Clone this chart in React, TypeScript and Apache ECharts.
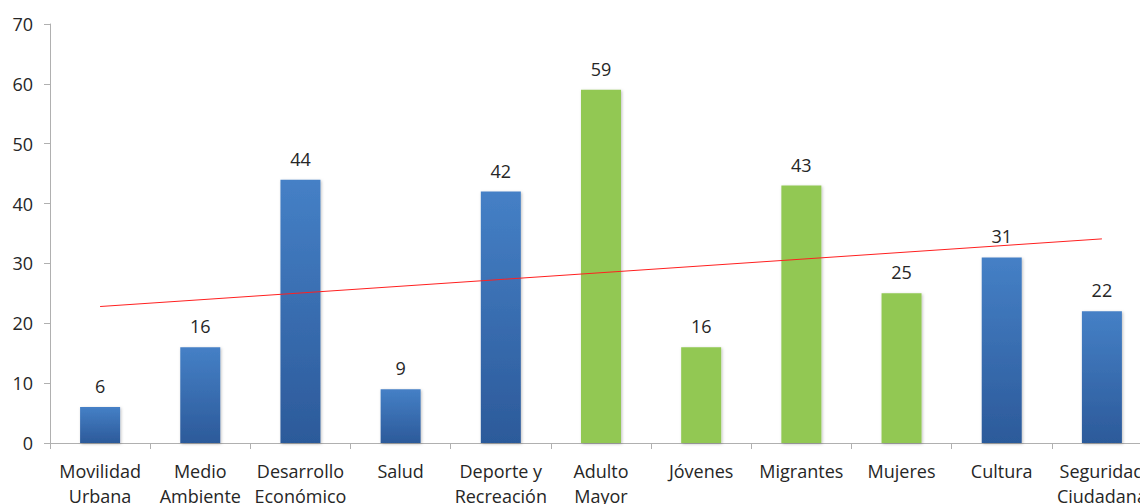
import React, { useEffect, useRef } from "react";
import * as echarts from "echarts";

const categories = [
  "Movilidad\nUrbana",
  "Medio\nAmbiente",
  "Desarrollo\nEconómico",
  "Salud",
  "Deporte y\nRecreación",
  "Adulto\nMayor",
  "Jóvenes",
  "Migrantes",
  "Mujeres",
  "Cultura",
  "Seguridad\nCiudadana",
];
const values = [6, 16, 44, 9, 42, 59, 16, 43, 25, 31, 22];
const groups = ["b", "b", "b", "b", "b", "g", "g", "g", "g", "b", "b"];
const trendStart = 22.8;
const trendEnd = 34.1;

const FONT = "'Open Sans', sans-serif";

export default function App() {
  const ref = useRef<HTMLDivElement>(null);
  useEffect(() => {
    document.body.style.margin = "0";
    if (!ref.current) return;
    const chart = echarts.init(ref.current, undefined, { renderer: "svg" });
    const blue = new echarts.graphic.LinearGradient(0, 0, 0, 1, [
      { offset: 0, color: "#4580c6" },
      { offset: 1, color: "#2c5a9a" },
    ]);
    const green = "#92c853";
    const trend = values.map((_, i) =>
      i === 0 ? trendStart : i === values.length - 1 ? trendEnd : null
    );
    chart.setOption({
      animation: false,
      textStyle: { fontFamily: FONT },
      grid: {
        left: 50,
        top: 24,
        width: 1102,
        height: 419,
        containLabel: false,
        outerBoundsMode: "none",
      },
      xAxis: {
        type: "category",
        data: categories,
        axisLine: { lineStyle: { color: "#b0b0b0", width: 1 } },
        axisTick: { show: true, length: 6, lineStyle: { color: "#b0b0b0" } },
        axisLabel: {
          color: "#262626",
          fontSize: 18,
          lineHeight: 25,
          margin: 15,
          interval: 0,
          fontFamily: FONT,
          hideOverlap: false,
        },
      },
      yAxis: {
        type: "value",
        min: 0,
        max: 70,
        interval: 10,
        splitLine: { show: false },
        axisLine: { show: true, lineStyle: { color: "#b0b0b0", width: 1 } },
        axisTick: { show: true, length: 6, lineStyle: { color: "#b0b0b0" } },
        axisLabel: { color: "#262626", fontSize: 18, margin: 17, fontFamily: FONT },
      },
      series: [
        {
          type: "bar",
          barWidth: 40,
          data: values.map((v, i) => ({
            value: v,
            itemStyle: { color: groups[i] === "b" ? blue : green },
          })),
          itemStyle: {
            shadowColor: "rgba(0,0,0,0.25)",
            shadowBlur: 3,
            shadowOffsetX: 1,
            shadowOffsetY: 1,
          },
          label: {
            show: true,
            position: "top",
            distance: 12,
            color: "#262626",
            fontSize: 18,
            fontFamily: FONT,
          },
        },
        {
          type: "line",
          data: trend,
          connectNulls: true,
          symbol: "none",
          lineStyle: { color: "#ff2020", width: 1 },
          z: 5,
        },
      ],
    });
    return () => chart.dispose();
  }, []);
  return <div ref={ref} style={{ width: 1140, height: 504 }} />;
}
